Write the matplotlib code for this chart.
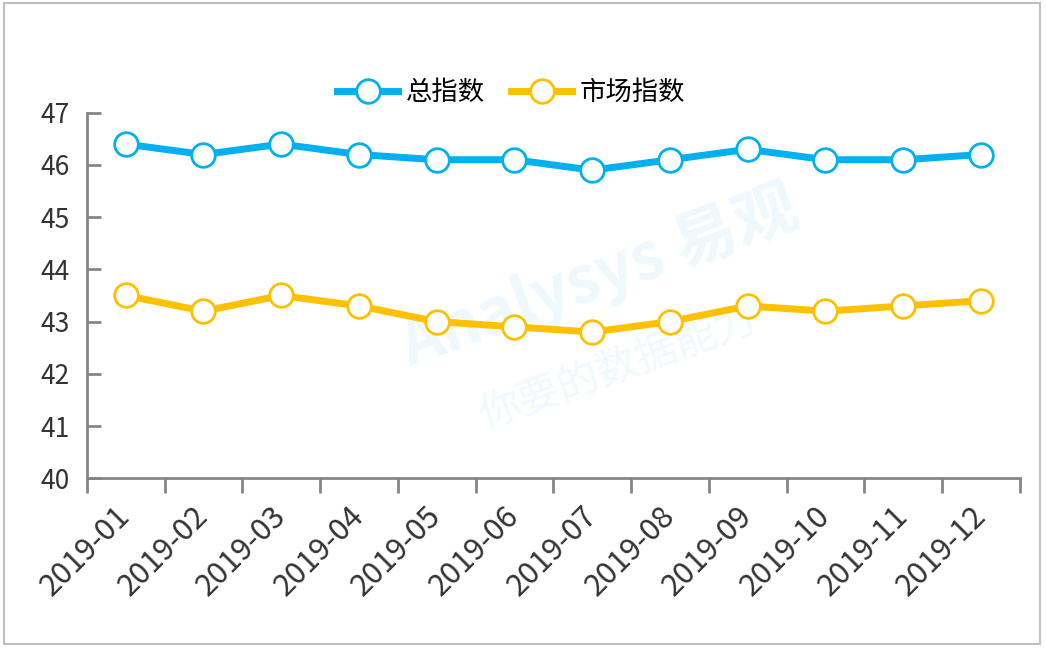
import matplotlib
matplotlib.use('Agg')
import matplotlib.pyplot as plt
from matplotlib.patches import Rectangle
import numpy as np

plt.rcParams['font.family'] = ['Noto Sans CJK SC', 'DejaVu Sans']

months = ['2019-01', '2019-02', '2019-03', '2019-04', '2019-05', '2019-06',
          '2019-07', '2019-08', '2019-09', '2019-10', '2019-11', '2019-12']
total_index = [46.4, 46.2, 46.4, 46.2, 46.1, 46.1, 45.9, 46.1, 46.3, 46.1, 46.1, 46.2]
market_index = [43.5, 43.2, 43.5, 43.3, 43.0, 42.9, 42.8, 43.0, 43.3, 43.2, 43.3, 43.4]

BLUE = '#00B0F0'
GOLD = '#FFC000'
AXIS = '#868686'

fig = plt.figure(figsize=(10.46, 6.48), dpi=100)
ax = fig.add_axes([0.083, 0.262, 0.892, 0.564])

# faint watermark, behind the lines
ax.text(0.55, 0.55, 'Analysys 易观', transform=ax.transAxes, fontsize=46,
        color='#EEF8FD', rotation=20, ha='center', va='center',
        fontweight='bold', style='italic', zorder=1)
ax.text(0.57, 0.30, '你要的数据能力', transform=ax.transAxes, fontsize=30,
        color='#F0F9FD', rotation=20, ha='center', va='center', zorder=1)

x = np.arange(len(months))
ax.plot(x, total_index, color=BLUE, lw=5, marker='o', ms=17,
        mfc='white', mec=BLUE, mew=2, label='总指数', zorder=3)
ax.plot(x, market_index, color=GOLD, lw=5, marker='o', ms=17,
        mfc='white', mec=GOLD, mew=2, label='市场指数', zorder=3)

ax.set_xlim(-0.5, len(months) - 0.5)
ax.set_ylim(40, 47)
ax.set_yticks(range(40, 48))

ax.set_xticks(x)
ax.set_xticklabels(months, rotation=45, ha='right', va='center',
                   rotation_mode='anchor', fontsize=22, color='#333333')
ax.set_xticks(np.arange(-0.5, len(months)), minor=True)
ax.tick_params(axis='x', which='major', length=0, pad=24)
ax.tick_params(axis='x', which='minor', length=11, width=2, color=AXIS, direction='out')
ax.tick_params(axis='y', length=10, width=2, color=AXIS, direction='in',
               labelsize=19, labelcolor='#333333', pad=12)

for s in ['top', 'right']:
    ax.spines[s].set_visible(False)
for s in ['left', 'bottom']:
    ax.spines[s].set_color(AXIS)
    ax.spines[s].set_linewidth(2)

ax.legend(loc='center', bbox_to_anchor=(0.455, 1.055), ncol=2, frameon=False,
          fontsize=19, handlelength=2.3, columnspacing=1.0, handletextpad=0.3)

fig.patches.append(Rectangle((0.004, 0.006), 0.99, 0.99, transform=fig.transFigure,
                             fill=False, edgecolor='#BFBFBF', lw=1.5))

fig.savefig('out.png', dpi=100)
